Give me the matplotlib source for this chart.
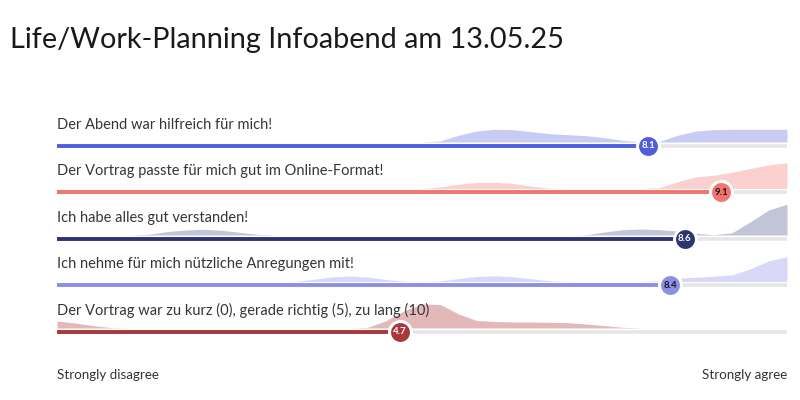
import matplotlib
matplotlib.use('Agg')
import matplotlib.pyplot as plt
import numpy as np

plt.rcParams['font.family'] = ['Lato', 'DejaVu Sans']

TITLE = 'Life/Work-Planning Infoabend am 13.05.25'
questions = ['Der Abend war hilfreich für mich!',
             'Der Vortrag passte für mich gut im Online-Format!',
             'Ich habe alles gut verstanden!',
             'Ich nehme für mich nützliche Anregungen mit!',
             'Der Vortrag war zu kurz (0), gerade richtig (5), zu lang (10)']
means = [8.1, 9.1, 8.6, 8.4, 4.7]
bar_cols = ['#4f5fdb', '#f4736e', '#2d3470', '#8b8fe6', '#a8383a']
area_cols = ['#c8ccf5', '#fcd0cf', '#c2c4d8', '#d9d8f8', '#e3b8b8']
txt_cols = ['white', '#1a1a1a', 'white', '#1a1a1a', 'white']

# score grid 0..10 in quarter steps, densities (px heights)
grid = np.arange(41) * 0.25
dens_1 = [0]*20 + [0, 1, 6.7, 11, 12.7, 12.3, 10.3, 8.3, 7.3, 6.3, 4.3, 1.7, 0, 0.5, 6.7, 11, 12.3, 12.7, 12.7, 12.7, 12.7]
dens_2 = [0]*20 + [0, 1.7, 4.3, 6, 6.3, 5, 2.3, 0.3, 0, 0, 0, 0, 0, 1, 6.7, 11.7, 13.3, 16.3, 20, 23.7, 25.7]
dens_3 = [0, 0, 0, 0, 0, 0.7, 3.3, 5, 5.7, 4.7, 2.7, 0.7, 0, 0, 0, 0, 0, 0, 0, 0,
          0, 0, 0, 0, 0, 0, 0, 0, 0, 0.3, 3, 5.3, 6, 5.3, 4, 1.7, 0.3, 2.3, 13.3, 25, 30.7]
dens_4 = [0]*13 + [0, 2, 4.5, 5.5, 4.5, 2, 0.3, 0, 0.5, 3, 5, 5.7, 4.7, 2.7, 0.7, 0,
                   0, 0, 0, 0, 1, 3.3, 4.3, 5.3, 6.7, 12.7, 20.7, 24.7]
dens_5 = [7, 5, 2.3, 0.3, 0, 0, 0, 0, 0, 0, 0, 0, 0, 0, 0, 0, 0, 0.5, 7, 17, 24, 23.5, 14, 7.5,
          6.5, 6, 6, 5.7, 5.3, 4, 2.3, 0.7, 0, 0, 0, 0, 0, 0, 0, 0, 0]
densities = [dens_1, dens_2, dens_3, dens_4, dens_5]

ROW_PX = 46.5  # pixels per row unit
fig = plt.figure(figsize=(8, 4), dpi=100)
fig.patch.set_facecolor('white')
ax = fig.add_axes([57/800, 0.1119, 730/800, 0.6626])
ax.set_xlim(0, 10); ax.set_ylim(4.5, -1.2); ax.axis('off')

for i, (q, m, d) in enumerate(zip(questions, means, densities)):
    base = i - 4/ROW_PX
    ax.fill_between(grid, base, base - np.array(d)/ROW_PX, color=area_cols[i], lw=0, zorder=1)
    ax.plot([m, 10], [i, i], color='#e6e6e6', lw=2.6, solid_capstyle='butt', zorder=2)
    ax.plot([0, m], [i, i], color=bar_cols[i], lw=2.8, solid_capstyle='butt', zorder=2)
    ax.plot(m, i, 'o', ms=15.8, mfc=bar_cols[i], mec='white', mew=2.2, zorder=3)
    ax.text(m, i, f'{m:.1f}', ha='center', va='center', fontsize=7, fontweight='bold',
            color=txt_cols[i], zorder=4)
    ax.text(0, i - 17/ROW_PX, q, ha='left', va='baseline', fontsize=10.5, color='#363636')

ax.text(0, 4 + 43/ROW_PX, 'Strongly disagree', ha='left', va='center', fontsize=9.6, color='#333333')
ax.text(10, 4 + 43/ROW_PX, 'Strongly agree', ha='right', va='center', fontsize=9.6, color='#333333')
fig.text(10/800, 1 - 48/400, TITLE, ha='left', va='baseline', fontsize=20.8, color='#1a1a1a')

plt.savefig('out.png', dpi=100, facecolor='white')
